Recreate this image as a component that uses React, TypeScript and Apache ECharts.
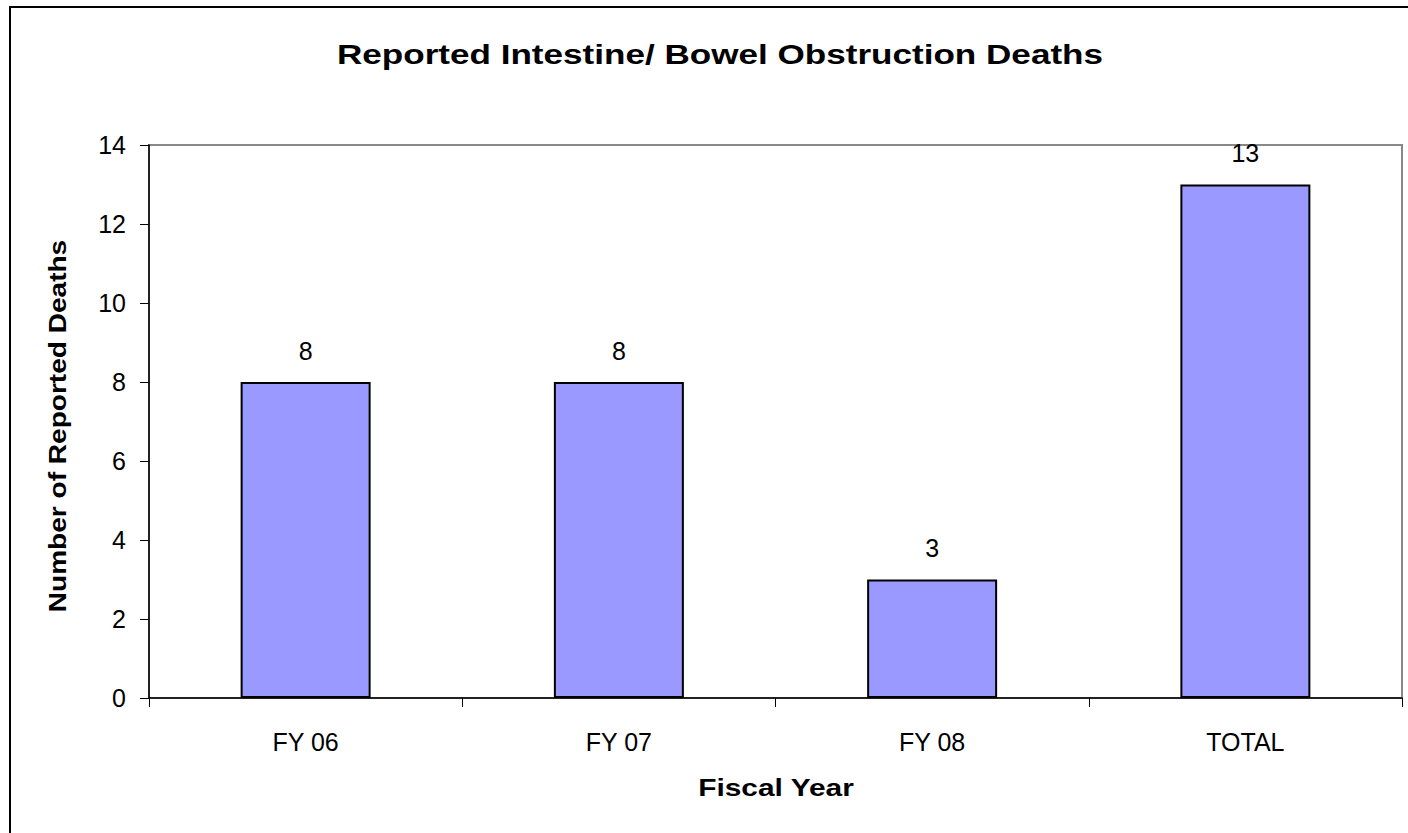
import React, { useEffect, useRef } from "react";
import * as echarts from "echarts";

const categories = ["FY 06", "FY 07", "FY 08", "TOTAL"];
const deaths = [8, 8, 3, 13];
const yTicks = [0, 2, 4, 6, 8, 10, 12, 14];

const titleText = "Reported Intestine/ Bowel Obstruction Deaths";
const xName = "Fiscal Year";
const yName = "Number of Reported Deaths";

export default function App() {
  const ref = useRef<HTMLDivElement>(null);
  useEffect(() => {
    if (!ref.current) return;
    const chart = echarts.init(ref.current, null, { renderer: "svg" });
    const font = "'Liberation Sans', Arial, sans-serif";
    chart.setOption({
      animation: false,
      backgroundColor: "#ffffff",
      textStyle: { fontFamily: font },
      graphic: [
        {
          type: "rect",
          shape: { x: 10, y: 7, width: 1500, height: 900 },
          style: { fill: "none", stroke: "#000", lineWidth: 2 },
          silent: true,
        },
        {
          type: "text",
          x: 720,
          y: 55,
          scaleX: 1.3,
          style: {
            text: titleText,
            fontFamily: font,
            fontSize: 27,
            fontWeight: "bold",
            fill: "#000",
            align: "center",
            verticalAlign: "middle",
          },
        },
        {
          type: "text",
          x: 776,
          y: 788,
          scaleX: 1.3,
          style: {
            text: xName,
            fontFamily: font,
            fontSize: 23,
            fontWeight: "bold",
            fill: "#000",
            align: "center",
            verticalAlign: "middle",
          },
        },
        {
          type: "text",
          x: 58,
          y: 426,
          rotation: Math.PI / 2,
          scaleX: 1.22,
          style: {
            text: yName,
            fontFamily: font,
            fontSize: 23,
            fontWeight: "bold",
            fill: "#000",
            align: "center",
            verticalAlign: "middle",
          },
        },
      ],
      grid: {
        left: 149,
        top: 145,
        right: 6,
        bottom: 135,
        show: true,
        borderColor: "#888888",
        borderWidth: 2,
        backgroundColor: "transparent",
      },
      xAxis: {
        type: "category",
        data: categories,
        axisLine: { show: true, lineStyle: { color: "#000", width: 1.5 } },
        axisTick: { show: true, length: 9, alignWithLabel: false, lineStyle: { color: "#000" } },
        axisLabel: { fontFamily: font, fontSize: 25, color: "#000", margin: 31 },
      },
      yAxis: {
        type: "value",
        min: yTicks[0],
        max: yTicks[yTicks.length - 1],
        interval: 2,
        axisLine: { show: true, lineStyle: { color: "#000", width: 1.5 } },
        axisTick: { show: true, length: 9, lineStyle: { color: "#000" } },
        axisLabel: { fontFamily: font, fontSize: 25, color: "#000", margin: 23 },
        splitLine: { show: false },
      },
      series: [
        {
          type: "bar",
          data: deaths,
          barWidth: "41.5%",
          itemStyle: { color: "#9999ff", borderColor: "#000", borderWidth: 2 },
          label: {
            show: true,
            position: "top",
            distance: 19,
            fontFamily: font,
            fontSize: 25,
            color: "#000",
          },
        },
      ],
    });
    return () => chart.dispose();
  }, []);
  return (
    <div
      ref={ref}
      style={{ position: "fixed", left: 0, top: 0, width: 1408, height: 833 }}
    />
  );
}
